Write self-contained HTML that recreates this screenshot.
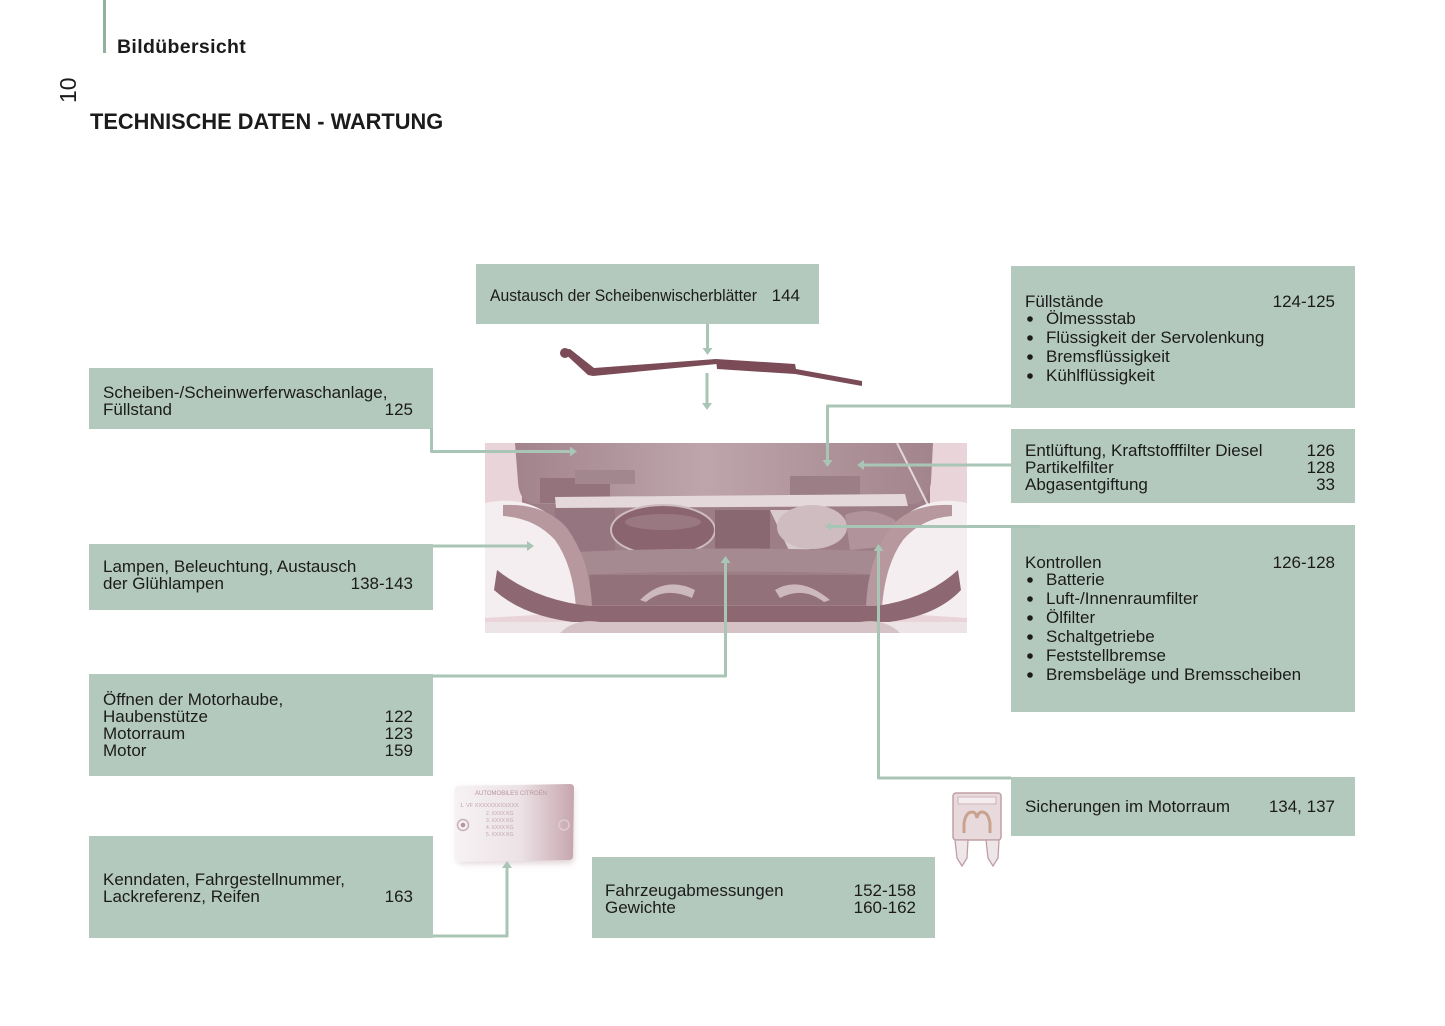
<!DOCTYPE html>
<html>
<head>
<meta charset="utf-8">
<style>
  html, body { margin:0; padding:0; background:#ffffff; }
  body { width:1445px; height:1026px; overflow:hidden; }
  svg { display:block; }
  text { font-family: "Liberation Sans", Arial, sans-serif; fill:#1b1b1b; }
</style>
</head>
<body>
<svg width="1445" height="1026" viewBox="0 0 1445 1026" xmlns="http://www.w3.org/2000/svg">
  <defs>
    <linearGradient id="hood" x1="0" y1="0" x2="1" y2="0">
      <stop offset="0" stop-color="#a2838c"/>
      <stop offset="0.45" stop-color="#bea5ab"/>
      <stop offset="1" stop-color="#a2848c"/>
    </linearGradient>
    <linearGradient id="plate" x1="0" y1="0" x2="1" y2="0">
      <stop offset="0" stop-color="#f6f2f3"/>
      <stop offset="0.55" stop-color="#ece2e5"/>
      <stop offset="1" stop-color="#c6a6ae"/>
    </linearGradient>
    <filter id="blur1" x="-20%" y="-20%" width="140%" height="140%">
      <feGaussianBlur stdDeviation="3"/>
    </filter>
  </defs>

  <!-- header -->
  <rect x="103" y="0" width="3" height="53" fill="#8fb29f"/>
  <text x="117" y="53" font-size="19.5" font-weight="bold" letter-spacing="0.35">Bildübersicht</text>
  <text transform="translate(76,103) rotate(-90)" font-size="23" fill="#222">10</text>
  <text x="90" y="129" font-size="21.8" font-weight="bold">TECHNISCHE DATEN - WARTUNG</text>

  <!-- ============ Engine photo (approximation) ============ -->
  <g>
    <rect x="485" y="443" width="482" height="190" fill="#e9d4d9"/>
    <!-- engine bay base -->
    <rect x="522" y="478" width="408" height="132" fill="#9d7e87"/>
    <!-- hood -->
    <path d="M515,443 H933 L931,482 Q929,500 915,504 H532 Q519,500 518,482 Z" fill="url(#hood)"/>
    <!-- dark parts near hinge -->
    <rect x="540" y="478" width="70" height="25" fill="#94737c"/>
    <rect x="575" y="470" width="60" height="14" fill="#a3878f"/>
    <rect x="790" y="476" width="70" height="22" fill="#9c7e87"/>
    <!-- cross bar -->
    <path d="M555,497 L905,494 L908,506 L556,508 Z" fill="#e4d8db"/>
    <!-- left engine block -->
    <rect x="555" y="508" width="60" height="50" fill="#957580"/>
    <!-- air filter -->
    <ellipse cx="663" cy="530" rx="52" ry="25" fill="#8a6570" stroke="#cdbbc0" stroke-width="2"/>
    <ellipse cx="663" cy="522" rx="38" ry="8" fill="#9a7882"/>
    <!-- center dark -->
    <rect x="715" y="510" width="55" height="45" fill="#8a6871"/>
    <path d="M770,510 L790,510 L812,555 L792,557 Z" fill="#d9cacd"/>
    <!-- reservoir -->
    <ellipse cx="812" cy="527" rx="35" ry="22" fill="#cfbcc1"/>
    <path d="M845,515 Q870,505 895,520 L900,545 L850,550 Z" fill="#b0939b"/>
    <!-- strut -->
    <line x1="897" y1="443" x2="928" y2="505" stroke="#e2d6d9" stroke-width="2"/>
    <!-- lower crossmember -->
    <path d="M575,552 Q730,545 900,552 L900,575 Q730,568 575,575 Z" fill="#a68a92"/>
    <!-- grille -->
    <rect x="590" y="575" width="300" height="30" fill="#93717a"/>
    <path d="M640,600 Q665,575 695,590 L692,598 Q665,586 646,602 Z" fill="#ccb8bd"/>
    <path d="M775,590 Q800,575 830,600 L824,602 Q803,586 780,598 Z" fill="#ccb8bd"/>
    <!-- left fender -->
    <path d="M485,503 Q522,495 550,515 Q580,545 584,612 L485,618 Z" fill="#f4eef0"/>
    <path d="M503,505 Q545,503 567,528 Q590,560 592,606 L576,608 Q573,565 555,540 Q535,518 503,516 Z" fill="#b8989f"/>
    <!-- right fender -->
    <path d="M967,503 Q932,495 906,515 Q878,545 875,612 L967,618 Z" fill="#f4eef0"/>
    <path d="M952,505 Q910,503 890,528 Q868,560 866,606 L882,608 Q885,565 903,540 Q922,518 952,516 Z" fill="#b8989f"/>
    <!-- bumper band -->
    <path d="M497,570 Q535,600 590,606 H875 Q925,600 958,570 L961,590 Q935,618 880,623 H582 Q525,618 494,590 Z" fill="#8d6872"/>
    <!-- bottom -->
    <rect x="485" y="622" width="482" height="11" fill="#ede4e7"/>
    <path d="M560,633 Q575,618 600,622 H860 Q885,618 900,633 Z" fill="#d4c2c6"/>
  </g>

  <!-- ============ Wiper ============ -->
  <g fill="#7b4b58" stroke="none">
    <circle cx="565" cy="353" r="5"/>
    <path d="M561,350 L570,349 L594,368 L716,359 L717,364 L593,376 L588,375 Z"/>
    <path d="M716,359 L795,364 L796,369 L862,381 L862,386 L795,374 L717,369 Z"/>
  </g>

  <!-- ============ Plate ============ -->
  <g>
    <rect x="457" y="788" width="117" height="76" rx="5" fill="#d9c7cc" filter="url(#blur1)" opacity="0.7"/>
    <path d="M458,786 L570,784 Q574,784 574,788 L573,856 Q573,860 569,860 L459,862 Q455,862 455,858 L455,790 Q455,786 458,786 Z" fill="url(#plate)"/>
    <circle cx="463" cy="825" r="5.5" fill="none" stroke="#c9aeb5" stroke-width="1.5"/>
    <circle cx="463" cy="825" r="2.3" fill="#b8959e"/>
    <circle cx="564" cy="825" r="5" fill="none" stroke="#dccbd0" stroke-width="1.5"/>
    <text x="475" y="795" font-size="6" style="fill:#b7949d">AUTOMOBILES  CITROËN</text>
    <text x="460" y="807" font-size="5.5" style="fill:#c2a6ad">1.  VF XXXXXXXXXXXX</text>
    <text x="486" y="815" font-size="5" style="fill:#c2a6ad">2.   XXXX  KG</text>
    <text x="486" y="822" font-size="5" style="fill:#c2a6ad">3.   XXXX  KG</text>
    <text x="486" y="829" font-size="5" style="fill:#c2a6ad">4.   XXXX  KG</text>
    <text x="486" y="836" font-size="5" style="fill:#c2a6ad">5.   XXXX  KG</text>
  </g>

  <!-- ============ Fuse ============ -->
  <g>
    <rect x="953" y="793" width="48" height="47" rx="3" fill="#e8d9dd" stroke="#bf9fa7" stroke-width="1.5"/>
    <rect x="958" y="797" width="38" height="7" fill="#f4ecee" stroke="#cdb3ba" stroke-width="1"/>
    <path d="M964,833 L964,823 Q966,812 972,812 Q976,812 977,818 Q978,812 982,812 Q988,812 990,823 L990,833" fill="none" stroke="#c8a28c" stroke-width="3"/>
    <path d="M955,840 L968,840 L967,858 L962,866 L957,858 Z" fill="#efe6e8" stroke="#bf9fa7" stroke-width="1.3"/>
    <path d="M986,840 L999,840 L998,858 L993,866 L988,858 Z" fill="#efe6e8" stroke="#bf9fa7" stroke-width="1.3"/>
  </g>

  <!-- ============ Boxes ============ -->
  <g fill="#b4c9bd">
    <rect x="476" y="264" width="343" height="60"/>
    <rect x="1011" y="266" width="344" height="142"/>
    <rect x="1011" y="429" width="344" height="74"/>
    <rect x="1011" y="525" width="344" height="187"/>
    <rect x="1011" y="777" width="344" height="59"/>
    <rect x="89" y="368" width="344" height="61"/>
    <rect x="89" y="544" width="344" height="66"/>
    <rect x="89" y="674" width="344" height="102"/>
    <rect x="89" y="836" width="344" height="102"/>
    <rect x="592" y="857" width="343" height="81"/>
  </g>

  <!-- ============ Connectors ============ -->
  <g fill="none" stroke="#a9c5b5" stroke-width="3" stroke-linejoin="round">
    <path d="M707.5,324 V349"/>
    <path d="M707,373 V404"/>
    <path d="M431.5,428 V451.5 H571"/>
    <path d="M433,546 H528"/>
    <path d="M433,676 H725.5 V562"/>
    <path d="M433,936 H507 V867"/>
    <path d="M1011,406 H827.5 V461"/>
    <path d="M1011,465 H863"/>
    <path d="M1040,526.5 H830"/>
    <path d="M1011,778 H878.5 V550"/>
  </g>
  <g fill="#a9c5b5">
    <polygon points="702.5,348 712.5,348 707.5,355"/>
    <polygon points="702,403 712,403 707,410"/>
    <polygon points="570,446.5 570,456.5 577,451.5"/>
    <polygon points="527,541 527,551 534,546"/>
    <polygon points="720.5,563 730.5,563 725.5,556"/>
    <polygon points="502,868 512,868 507,861"/>
    <polygon points="822.5,460 832.5,460 827.5,467"/>
    <polygon points="864,460 864,470 857,465"/>
    <polygon points="831,522 831,531 825,526.5"/>
    <polygon points="873.5,551 883.5,551 878.5,544"/>
  </g>

  <!-- ============ Texts ============ -->
  <g font-size="17">
    <!-- wiper -->
    <text x="490" y="301" textLength="267" lengthAdjust="spacingAndGlyphs">Austausch der Scheibenwischerblätter</text>
    <text x="800" y="301" text-anchor="end">144</text>

    <!-- Füllstände -->
    <text x="1025" y="307">Füllstände</text>
    <text x="1335" y="307" text-anchor="end">124-125</text>
    <text x="1046" y="324">Ölmessstab</text>
    <text x="1046" y="343">Flüssigkeit der Servolenkung</text>
    <text x="1046" y="362">Bremsflüssigkeit</text>
    <text x="1046" y="381">Kühlflüssigkeit</text>

    <!-- Entlüftung -->
    <text x="1025" y="456">Entlüftung, Kraftstofffilter Diesel</text>
    <text x="1335" y="456" text-anchor="end">126</text>
    <text x="1025" y="473">Partikelfilter</text>
    <text x="1335" y="473" text-anchor="end">128</text>
    <text x="1025" y="490">Abgasentgiftung</text>
    <text x="1335" y="490" text-anchor="end">33</text>

    <!-- Kontrollen -->
    <text x="1025" y="568">Kontrollen</text>
    <text x="1335" y="568" text-anchor="end">126-128</text>
    <text x="1046" y="585">Batterie</text>
    <text x="1046" y="604">Luft-/Innenraumfilter</text>
    <text x="1046" y="623">Ölfilter</text>
    <text x="1046" y="642">Schaltgetriebe</text>
    <text x="1046" y="661">Feststellbremse</text>
    <text x="1046" y="680">Bremsbeläge und Bremsscheiben</text>

    <!-- Sicherungen -->
    <text x="1025" y="812">Sicherungen im Motorraum</text>
    <text x="1335" y="812" text-anchor="end">134, 137</text>

    <!-- Scheiben -->
    <text x="103" y="398">Scheiben-/Scheinwerferwaschanlage,</text>
    <text x="103" y="415">Füllstand</text>
    <text x="413" y="415" text-anchor="end">125</text>

    <!-- Lampen -->
    <text x="103" y="572">Lampen, Beleuchtung, Austausch</text>
    <text x="103" y="589">der Glühlampen</text>
    <text x="413" y="589" text-anchor="end">138-143</text>

    <!-- Öffnen -->
    <text x="103" y="705">Öffnen der Motorhaube,</text>
    <text x="103" y="722">Haubenstütze</text>
    <text x="413" y="722" text-anchor="end">122</text>
    <text x="103" y="739">Motorraum</text>
    <text x="413" y="739" text-anchor="end">123</text>
    <text x="103" y="756">Motor</text>
    <text x="413" y="756" text-anchor="end">159</text>

    <!-- Kenndaten -->
    <text x="103" y="885">Kenndaten, Fahrgestellnummer,</text>
    <text x="103" y="902">Lackreferenz, Reifen</text>
    <text x="413" y="902" text-anchor="end">163</text>

    <!-- Fahrzeug -->
    <text x="605" y="896">Fahrzeugabmessungen</text>
    <text x="916" y="896" text-anchor="end">152-158</text>
    <text x="605" y="913">Gewichte</text>
    <text x="916" y="913" text-anchor="end">160-162</text>
  </g>

  <!-- bullets -->
  <g fill="#1b1b1b">
    <circle cx="1030" cy="319" r="2.8"/>
    <circle cx="1030" cy="338" r="2.8"/>
    <circle cx="1030" cy="357" r="2.8"/>
    <circle cx="1030" cy="376" r="2.8"/>
    <circle cx="1030" cy="580" r="2.8"/>
    <circle cx="1030" cy="599" r="2.8"/>
    <circle cx="1030" cy="618" r="2.8"/>
    <circle cx="1030" cy="637" r="2.8"/>
    <circle cx="1030" cy="656" r="2.8"/>
    <circle cx="1030" cy="675" r="2.8"/>
  </g>
</svg>
</body>
</html>
